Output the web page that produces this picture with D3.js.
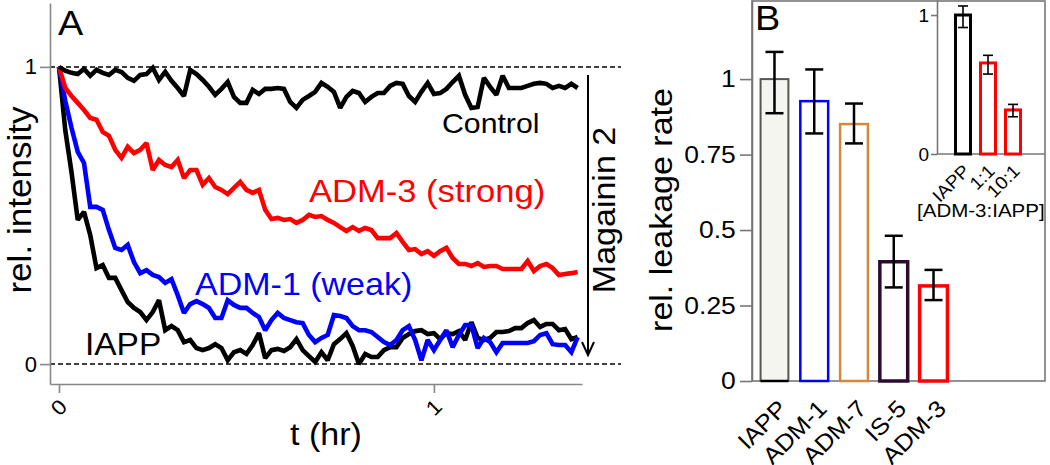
<!DOCTYPE html>
<html><head><meta charset="utf-8">
<script src="https://cdn.jsdelivr.net/npm/d3@7"></script>
<style>html,body{margin:0;padding:0;background:#fff;} svg{display:block;font-family:"Liberation Sans",Arial,Helvetica,sans-serif;}</style>
</head><body><svg id="c" width="1050" height="465"></svg>
<script>
// ---------- DATA ----------
// Panel A: time (minutes) and relative intensity series
const minutes = [0,1,2,3,4,5,6,7,8,9,10,11,12,13,14,15,16,17,18,19,20,21,22,23,24,25,26,27,28,29,30,31,32,33,34,35,36,37,38,39,40,41,42,43,44,45,46,47,48,49,50,51,52,53,54,55,56,57,58,59,60,61,62,63,64,65,66,67,68,69,70,71,72,73,74,75,76,77,78,79,80,81,82,83];
const controlSeries = [1.000,0.987,0.980,0.976,0.993,0.970,0.990,0.980,0.973,0.990,0.983,0.963,0.953,0.973,0.976,0.997,0.956,0.983,0.953,0.929,0.902,0.990,0.976,0.956,0.933,0.906,0.926,0.949,0.899,0.879,0.879,0.923,0.909,0.926,0.926,0.929,0.926,0.882,0.862,0.889,0.902,0.916,0.946,0.933,0.916,0.862,0.899,0.919,0.912,0.882,0.899,0.912,0.912,0.936,0.946,0.943,0.902,0.882,0.916,0.946,0.909,0.912,0.926,0.949,0.970,0.906,0.862,0.865,0.963,0.933,0.906,0.970,0.929,0.929,0.929,0.936,0.943,0.946,0.943,0.929,0.936,0.929,0.943,0.929];
const adm3Series = [1.000,0.929,0.902,0.879,0.855,0.828,0.822,0.781,0.768,0.721,0.694,0.731,0.710,0.721,0.744,0.653,0.687,0.670,0.663,0.687,0.626,0.653,0.653,0.603,0.626,0.596,0.586,0.572,0.593,0.613,0.586,0.576,0.586,0.519,0.488,0.492,0.485,0.488,0.475,0.485,0.502,0.495,0.498,0.485,0.475,0.461,0.448,0.461,0.448,0.458,0.451,0.424,0.424,0.424,0.441,0.411,0.384,0.387,0.370,0.380,0.364,0.380,0.391,0.357,0.337,0.337,0.330,0.340,0.327,0.330,0.330,0.320,0.320,0.320,0.320,0.347,0.313,0.330,0.337,0.323,0.300,0.303,0.306,0.310];
const adm1Series = [1.000,0.886,0.795,0.714,0.677,0.529,0.529,0.519,0.451,0.391,0.384,0.401,0.343,0.306,0.316,0.300,0.293,0.273,0.286,0.232,0.172,0.202,0.212,0.202,0.189,0.155,0.155,0.215,0.199,0.189,0.189,0.172,0.158,0.114,0.148,0.172,0.155,0.148,0.141,0.138,0.098,0.074,0.088,0.098,0.165,0.162,0.155,0.128,0.114,0.114,0.108,0.091,0.074,0.064,0.081,0.114,0.128,0.081,0.013,0.081,0.047,0.081,0.114,0.057,0.098,0.131,0.131,0.054,0.088,0.074,0.040,0.071,0.071,0.071,0.071,0.071,0.077,0.098,0.104,0.067,0.064,0.064,0.040,0.091];
const iappSeries = [1.000,0.788,0.646,0.485,0.512,0.434,0.323,0.333,0.290,0.290,0.249,0.209,0.189,0.175,0.148,0.175,0.215,0.114,0.128,0.114,0.074,0.081,0.054,0.047,0.054,0.067,0.054,0.013,0.040,0.047,0.034,0.064,0.104,0.020,0.047,0.051,0.044,0.057,0.084,0.047,0.027,0.007,0.040,0.013,0.067,0.084,0.104,0.061,0.000,0.034,0.024,0.024,0.047,0.057,0.057,0.088,0.101,0.111,0.114,0.101,0.104,0.084,0.104,0.101,0.111,0.081,0.141,0.088,0.081,0.088,0.108,0.108,0.111,0.121,0.121,0.138,0.148,0.125,0.135,0.135,0.114,0.118,0.084,0.091];
const seriesNames = ["Control","ADM-3 (strong)","ADM-1 (weak)","IAPP"];
const xTicksA = [0,1];
const xTickLabelsA = ["0","1"];
const yTicksA = [0,1];
const yTickLabelsA = ["0","1"];

// Panel B: relative leakage rate
const barCategories = ["IAPP","ADM-1","ADM-7","IS-5","ADM-3"];
const barValues   = [1.000,0.927,0.851,0.395,0.315];
const barErrLow   = [0.887,0.820,0.787,0.310,0.268];
const barErrHigh  = [1.090,1.032,0.919,0.481,0.368];
const yTicksB = [0,0.25,0.5,0.75,1];
const yTickLabelsB = ["0","0.25","0.5","0.75","1"];

// Inset: [ADM-3:IAPP]
const insetCategories = ["IAPP","1:1","10:1"];
const insetValues  = [1.000,0.655,0.317];
const insetErrLow  = [0.910,0.575,0.268];
const insetErrHigh = [1.065,0.710,0.357];
const insetTicks = [0,1];
const insetTickLabels = ["0","1"];

// ---------- DRAWING ----------
const svg = d3.select('#c');
const SX = 1.08;
function label(g, str, x, y, o = {}) {
  return g.append('text')
    .attr('transform', `translate(${x},${y}) rotate(${o.rot || 0}) scale(${SX},1)`)
    .attr('font-size', o.fs || 30)
    .attr('text-anchor', o.anchor || 'start')
    .attr('fill', o.fill || '#000')
    .text(str);
}
function styleAxis(g, color) {
  g.selectAll('.domain').attr('stroke', color).attr('stroke-width', 1.6);
  g.selectAll('.tick line').attr('stroke', color).attr('stroke-width', 1.6);
  g.selectAll('.tick text').attr('fill', '#000');
}

// ----- Panel A -----
const gA = svg.append('g');
const xA = d3.scaleLinear().domain([-0.024, 1.395]).range([50, 582]);
const yA = d3.scaleLinear().domain([-0.067, 1.215]).range([384, 3]);

// reference dashed lines
[0, 1].forEach(v => {
  gA.append('line').attr('x1', 50).attr('x2', 621).attr('y1', yA(v)).attr('y2', yA(v))
    .attr('stroke', '#000').attr('stroke-width', 1.5).attr('stroke-dasharray', '5,3');
});

const axXA = gA.append('g').attr('transform', 'translate(0,384)')
  .call(d3.axisBottom(xA).tickValues(xTicksA).tickSize(9).tickSizeOuter(0)
    .tickFormat((d, i) => xTickLabelsA[i]));
styleAxis(axXA, '#888');
axXA.selectAll('.tick text').attr('y', 0).attr('dy', 0).attr('text-anchor', 'end')
  .attr('font-size', 21).attr('font-family', 'Liberation Sans, Arial, sans-serif')
  .attr('transform', `translate(9,24) rotate(-45) scale(${SX},1)`);

const axYA = gA.append('g').attr('transform', 'translate(50,0)')
  .call(d3.axisLeft(yA).tickValues(yTicksA).tickSize(10).tickPadding(3).tickSizeOuter(0)
    .tickFormat((d, i) => yTickLabelsA[i]));
styleAxis(axYA, '#888');
axYA.selectAll('.tick text').attr('font-size', 22).attr('font-family', 'Liberation Sans, Arial, sans-serif');

const lineA = d3.line().x((d, i) => xA(minutes[i] / 60)).y(d => yA(d));
const seriesData = [
  { vals: iappSeries, color: '#000000' },
  { vals: adm1Series, color: '#0000ff' },
  { vals: adm3Series, color: '#ff0000' },
  { vals: controlSeries, color: '#000000' }
];
seriesData.forEach(s => {
  gA.append('path').datum(s.vals).attr('d', lineA).attr('fill', 'none')
    .attr('stroke', s.color).attr('stroke-width', 4.6)
    .attr('stroke-linejoin', 'miter').attr('stroke-miterlimit', 2);
});

// Magainin 2 arrow
gA.append('line').attr('x1', 588).attr('x2', 588).attr('y1', 75).attr('y2', 354)
  .attr('stroke', '#000').attr('stroke-width', 2);
gA.append('path').attr('d', 'M582,342 L588,355 L594,342').attr('fill', 'none')
  .attr('stroke', '#000').attr('stroke-width', 2);
label(gA, 'Magainin 2', 615, 210, { rot: -90, fs: 31.5, anchor: 'middle' });

// series labels
label(gA, seriesNames[0], 442, 133, { fs: 28 });
label(gA, seriesNames[1], 309, 202, { fs: 32, fill: '#ff0000' });
label(gA, seriesNames[2], 195, 295, { fs: 31.5, fill: '#0000ff' });
label(gA, seriesNames[3], 85, 355, { fs: 31 });

label(gA, 'A', 58, 35, { fs: 35 });
label(gA, 't (hr)', 290, 445, { fs: 31.5 });
label(gA, 'rel. intensity', 31, 200, { rot: -90, fs: 32.5, anchor: 'middle' });

// ----- Panel B -----
const gB = svg.append('g');
const yB = d3.scaleLinear().domain([0, 1.262]).range([381, 0]);
const xB = d3.scaleBand().domain(barCategories).range([754.6, 953.4]).paddingInner(0.3).paddingOuter(0.15);
const barStroke = ['#555555', '#0000ff', '#d4883c', '#2b0b2e', '#ff0000'];
const barFill = ['#f3f5ee', '#ffffff', '#ffffff', '#ffffff', '#ffffff'];
const barSW = [2, 2.5, 2.5, 3.5, 3.5];

gB.append('rect').attr('x', 752).attr('y', 1).attr('width', 293).attr('height', 380)
  .attr('fill', 'none').attr('stroke', '#777').attr('stroke-width', 1.6);

const axYB = gB.append('g').attr('transform', 'translate(752,0)')
  .call(d3.axisLeft(yB).tickValues(yTicksB).tickSize(12).tickPadding(3).tickSizeOuter(0)
    .tickFormat((d, i) => yTickLabelsB[i]));
styleAxis(axYB, '#777');
axYB.selectAll('.tick text').attr('font-size', 24.5).attr('font-family', 'Liberation Sans, Arial, sans-serif')
  .attr('transform', `scale(${SX},1)`);

barCategories.forEach((c, i) => {
  const x = xB(c), w = xB.bandwidth(), cx = x + w / 2;
  gB.append('rect').attr('x', x).attr('y', yB(barValues[i])).attr('width', w)
    .attr('height', yB(0) - yB(barValues[i])).attr('fill', barFill[i])
    .attr('stroke', barStroke[i]).attr('stroke-width', barSW[i]);
  if (i === 0) gB.append('line').attr('x1', x).attr('x2', x + w).attr('y1', yB(0)).attr('y2', yB(0))
    .attr('stroke', '#000').attr('stroke-width', 2.5);
  const cap = 9;
  gB.append('line').attr('x1', cx).attr('x2', cx).attr('y1', yB(barErrLow[i])).attr('y2', yB(barErrHigh[i]))
    .attr('stroke', '#000').attr('stroke-width', 2.5);
  [barErrLow[i], barErrHigh[i]].forEach(v => gB.append('line').attr('x1', cx - cap).attr('x2', cx + cap)
    .attr('y1', yB(v)).attr('y2', yB(v)).attr('stroke', '#000').attr('stroke-width', 2.5));
  label(gB, c, cx + 14, 410, { rot: -45, fs: 23.5, anchor: 'end' });
});

label(gB, 'B', 755, 30, { fs: 35 });
label(gB, 'rel. leakage rate', 672, 210, { rot: -90, fs: 31.5, anchor: 'middle' });

// ----- Inset -----
const gI = svg.append('g');
const yI = d3.scaleLinear().domain([0, 1.108]).range([154, 0]);
const xI = d3.scaleBand().domain(insetCategories).range([950.5, 1025.5]).paddingInner(0.4).paddingOuter(0.2);
const insetStroke = ['#000000', '#ff0000', '#ff0000'];

gI.append('line').attr('x1', 937).attr('x2', 1045).attr('y1', 154).attr('y2', 154)
  .attr('stroke', '#777').attr('stroke-width', 1.6);
const axYI = gI.append('g').attr('transform', 'translate(937,0)')
  .call(d3.axisLeft(yI).tickValues(insetTicks).tickSize(6).tickPadding(2).tickSizeOuter(0)
    .tickFormat((d, i) => insetTickLabels[i]));
styleAxis(axYI, '#777');
axYI.selectAll('.tick text').attr('font-size', 19).attr('font-family', 'Liberation Sans, Arial, sans-serif');

insetCategories.forEach((c, i) => {
  const x = xI(c), w = xI.bandwidth(), cx = x + w / 2;
  gI.append('rect').attr('x', x).attr('y', yI(insetValues[i])).attr('width', w)
    .attr('height', yI(0) - yI(insetValues[i])).attr('fill', '#fff')
    .attr('stroke', insetStroke[i]).attr('stroke-width', 3);
  const cap = 5;
  gI.append('line').attr('x1', cx).attr('x2', cx).attr('y1', yI(insetErrLow[i])).attr('y2', yI(insetErrHigh[i]))
    .attr('stroke', '#000').attr('stroke-width', 1.6);
  [insetErrLow[i], insetErrHigh[i]].forEach(v => gI.append('line').attr('x1', cx - cap).attr('x2', cx + cap)
    .attr('y1', yI(v)).attr('y2', yI(v)).attr('stroke', '#000').attr('stroke-width', 1.6));
  label(gI, c, cx + 8, 172, { rot: -45, fs: 18, anchor: 'end' });
});
label(gI, '[ADM-3:IAPP]', 917, 217, { fs: 19 });
</script>
</body></html>
